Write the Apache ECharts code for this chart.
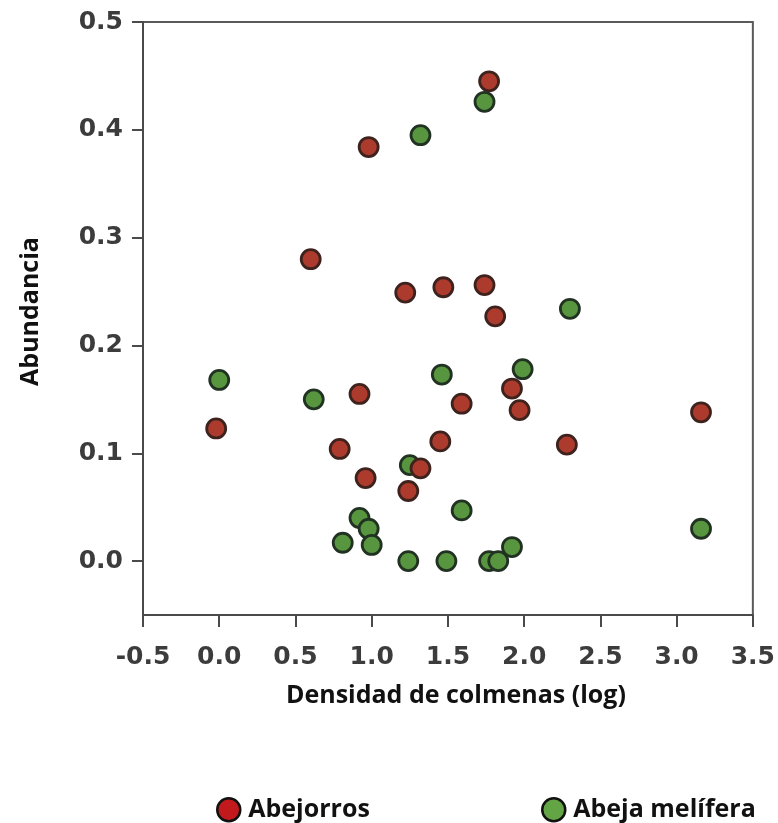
<!DOCTYPE html>
<html>
<head>
<meta charset="utf-8">
<script src="https://cdn.jsdelivr.net/npm/echarts@6/dist/echarts.min.js"></script>
<style>
  html, body { margin: 0; padding: 0; background: #ffffff; }
  #chart { width: 778px; height: 823px; }
</style>
</head>
<body>
<div id="chart"></div>
<script>
// Bumblebee and honeybee abundance against log hive density
const seriesNames = ['Abejorros', 'Abeja melífera'];

const abejorrosX = [1.77, 0.98, 0.60, 1.22, 1.47, 1.74, 1.81, 0.92, 1.59, 1.92, 1.97, 3.16, -0.02, 0.79, 1.45, 2.28, 0.96, 1.32, 1.24];
const abejorrosY = [0.445, 0.384, 0.280, 0.249, 0.254, 0.256, 0.227, 0.155, 0.146, 0.160, 0.140, 0.138, 0.123, 0.104, 0.111, 0.108, 0.077, 0.086, 0.065];

const melliferaX = [1.74, 1.32, 2.30, 1.99, 1.46, 0.00, 0.62, 1.25, 1.59, 0.92, 0.98, 1.00, 0.81, 1.24, 1.49, 1.77, 1.83, 1.92, 3.16];
const melliferaY = [0.426, 0.395, 0.234, 0.178, 0.173, 0.168, 0.150, 0.089, 0.047, 0.040, 0.030, 0.015, 0.017, 0.000, 0.000, 0.000, 0.000, 0.013, 0.030];

const xTicks = [-0.5, 0.0, 0.5, 1.0, 1.5, 2.0, 2.5, 3.0, 3.5];
const yTicks = [0.0, 0.1, 0.2, 0.3, 0.4, 0.5];

const pairs = (xs, ys) => xs.map((x, i) => [x, ys[i]]);

const tickFont = {
  fontFamily: 'DejaVu Sans',
  fontWeight: 'bold',
  fontSize: 25,
  color: '#3c3c3c'
};
const titleFont = {
  fontFamily: 'Open Sans',
  fontWeight: 'bold',
  fontSize: 25,
  color: '#111111'
};
const legendText = {
  fontFamily: 'Open Sans',
  fontWeight: 'bold',
  fontSize: 25,
  color: '#111111',
  padding: [0, 0, 0, 3]
};

const chart = echarts.init(document.getElementById('chart'), null, { renderer: 'canvas' });
chart.setOption({
  animation: false,
  backgroundColor: '#ffffff',
  grid: {
    left: 143, right: 24, top: 22, bottom: 208,
    show: true, borderColor: '#5a5a5a', borderWidth: 2, backgroundColor: 'transparent'
  },
  xAxis: {
    type: 'value',
    min: -0.5, max: 3.5, interval: 0.5,
    name: 'Densidad de colmenas (log)',
    nameLocation: 'middle',
    nameGap: 68,
    nameTextStyle: Object.assign({ padding: [0, 0, 0, 16] }, titleFont),
    axisLine: { show: true, onZero: false, lineStyle: { color: '#4a4a4a', width: 2 } },
    axisTick: { show: true, inside: false, length: 12, lineStyle: { color: '#4a4a4a', width: 2 }, customValues: xTicks },
    axisLabel: Object.assign({ margin: 30, customValues: xTicks, formatter: v => v.toFixed(1) }, tickFont),
    splitLine: { show: false }
  },
  yAxis: {
    type: 'value',
    min: -0.05, max: 0.5,
    name: 'Abundancia',
    nameLocation: 'middle',
    nameRotate: 90,
    nameGap: 100,
    nameTextStyle: Object.assign({ padding: [0, 0, 0, 14] }, titleFont),
    axisLine: { show: true, onZero: false, lineStyle: { color: '#4a4a4a', width: 2 } },
    axisTick: { show: true, inside: false, length: 11, lineStyle: { color: '#4a4a4a', width: 2 }, customValues: yTicks },
    axisLabel: Object.assign({ margin: 20, customValues: yTicks, formatter: v => v.toFixed(1) }, tickFont),
    splitLine: { show: false }
  },
  legend: [
    {
      left: 216, top: 797, padding: 0,
      data: [{ name: seriesNames[0], itemStyle: { color: '#c21a1c', borderColor: '#111111', borderWidth: 2.5 } }],
      icon: 'circle', itemWidth: 23, itemHeight: 23,
      textStyle: legendText
    },
    {
      left: 541, top: 797, padding: 0,
      data: [{ name: seriesNames[1], itemStyle: { color: '#63a545', borderColor: '#111111', borderWidth: 2.5 } }],
      icon: 'circle', itemWidth: 23, itemHeight: 23,
      textStyle: legendText
    }
  ],
  series: [
    {
      name: seriesNames[1],
      type: 'scatter',
      symbol: 'circle',
      symbolSize: 19,
      data: pairs(melliferaX, melliferaY),
      itemStyle: { color: '#57963f', borderColor: '#223222', borderWidth: 2.8, opacity: 1 }
    },
    {
      name: seriesNames[0],
      type: 'scatter',
      symbol: 'circle',
      symbolSize: 19,
      data: pairs(abejorrosX, abejorrosY),
      itemStyle: { color: '#ad3b2d', borderColor: '#3e221d', borderWidth: 2.8, opacity: 1 }
    }
  ]
});
</script>
</body>
</html>
